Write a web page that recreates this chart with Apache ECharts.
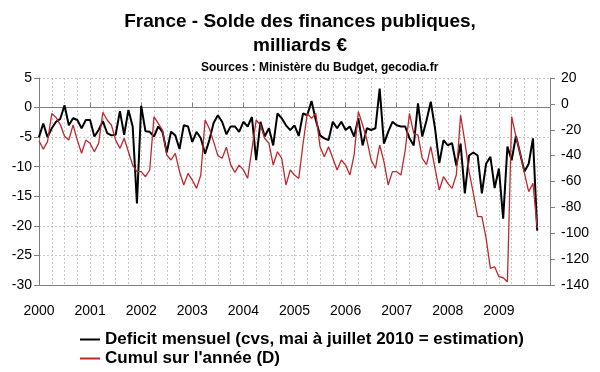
<!DOCTYPE html>
<html><head><meta charset="utf-8">
<script src="https://cdn.jsdelivr.net/npm/echarts@6/dist/echarts.min.js"></script>
<style>html,body{margin:0;padding:0;background:#fff}#c{width:600px;height:372px}</style>
</head><body><div id="c"></div>
<script>
// Year tick labels (one every 12 monthly points)
const yearLabels = ['2000','2001','2002','2003','2004','2005','2006','2007','2008','2009'];

// Monthly deficit, left axis (bn €)
const deficitMensuel = [
 -5.0,-2.7,-5.0,-3.5,-2.4,-1.9,0.4,-3.0,-1.8,-2.1,-3.5,-2.1,
 -2.1,-4.9,-3.8,-2.3,-4.3,-4.7,-4.6,-0.6,-4.6,-0.4,-3.2,-16.2,
 0.3,-4.0,-4.1,-4.9,-3.2,-4.1,-7.6,-4.1,-4.7,-7.0,-3.0,-3.2,
 -5.8,-4.1,-5.2,-7.8,-5.5,-2.6,-1.3,-2.4,-4.5,-3.2,-3.2,-4.1,
 -2.4,-3.2,-1.6,-8.9,-2.4,-4.9,-3.5,-6.4,-1.0,-1.8,-3.0,-3.8,
 -3.0,-4.8,-1.0,-1.3,1.1,-2.1,-4.7,-5.2,-5.5,-2.4,-3.5,-2.4,
 -3.8,-3.2,-4.9,-1.8,-6.4,-3.5,-3.8,-3.5,3.2,-6.1,-4.1,-2.4,
 -3.0,-3.2,-3.2,-5.2,-6.4,0.7,-4.9,-2.2,1.0,-3.5,-9.4,-5.5,
 -6.4,-6.0,-9.8,-6.1,-14.5,-8.1,-7.6,-8.1,-14.5,-9.5,-8.3,-13.6,
 -10.3,-18.8,-6.6,-8.9,-4.8,-7.8,-10.8,-9.5,-5.2,-20.8
];

// Cumulative over the year, right axis (bn €)
const cumulAnnee = [
 -28.5,-35,-29.2,-7.5,-10.5,-16,-25,-28,-16.3,-28,-38.2,-28,
 -30.5,-37,-30.5,-6.5,-12.5,-16.3,-28,-34.4,-26.6,-37,-47.3,-52.4,
 -52.4,-56.3,-51.1,-9.9,-15,-20.2,-39.5,-43.4,-38.2,-52.4,-62.7,-53.7,
 -58.9,-65.3,-55,-12.5,-19,-29.2,-40,-42,-33.5,-47,-53,-47.3,
 -51,-57.5,-35,-12.5,-16.3,-26.6,-30.5,-47.3,-37,-42.1,-62.7,-51.1,
 -55,-57.6,-31,-7.3,-11.2,-7.3,-33.1,-40.8,-33.1,-42.1,-51.1,-43.4,
 -47.3,-55,-39.5,-6,-16.3,-27.9,-43.4,-49.8,-31.8,-44.7,-62.7,-52.4,
 -52.4,-55,-35.7,-7.3,-22.8,-24.1,-42.1,-47,-33.1,-49.8,-66.6,-56.3,
 -61.4,-65.3,-55,-8.6,-29.2,-52.4,-69.2,-87.2,-87.2,-104,-127.2,-125.9,
 -133.6,-134.4,-137.5,-9.9,-25.4,-38.2,-53.7,-67.9,-61.4,-96
];

const seriesNames = ['Deficit mensuel (cvs, mai à juillet 2010 = estimation)', "Cumul sur l'année (D)"];

const FONT = '"Liberation Sans", Arial, sans-serif';
const AXIS = '#808080';
const GRID = '#c8c8c8';
const toPairs = arr => arr.map((v, i) => [i, v]);
const legendText = {fontFamily: FONT, fontSize: 17, fontWeight: 'bold', color: '#000'};

const chart = echarts.init(document.getElementById('c'), null, {renderer: 'canvas'});
chart.setOption({
  animation: false,
  backgroundColor: '#fff',
  textStyle: {fontFamily: FONT},
  title: [
    {text: 'France - Solde des finances publiques,\nmilliards €', left: 'center', top: 5,
     textStyle: {fontFamily: FONT, fontSize: 19, fontWeight: 'bold', color: '#000', lineHeight: 24}},
    {text: 'Sources : Ministère du Budget, gecodia.fr', left: 196, top: 56,
     textStyle: {fontFamily: FONT, fontSize: 12, fontWeight: 'bold', color: '#000', lineHeight: 14}}
  ],
  legend: [
    {left: 80, top: 331, padding: 0, itemWidth: 20, itemHeight: 2, selectedMode: false,
     textStyle: legendText, data: [{name: seriesNames[0], icon: 'rect'}]},
    {left: 80, top: 350, padding: 0, itemWidth: 20, itemHeight: 2, selectedMode: false,
     textStyle: legendText, data: [{name: seriesNames[1], icon: 'rect'}]}
  ],
  grid: {left: 39, right: 50, top: 78, bottom: 87, outerBoundsMode: 'none'},
  xAxis: [
    {type: 'value', min: 0, max: 120, interval: 3, position: 'bottom',
     axisLine: {show: true, onZero: false, lineStyle: {color: AXIS, width: 1}},
     axisTick: {show: false},
     axisLabel: {margin: 19, fontFamily: FONT, fontSize: 14, color: '#000',
       formatter: v => (v % 12 === 0 && v / 12 < yearLabels.length) ? yearLabels[v / 12] : ''},
     splitLine: {show: true, lineStyle: {color: GRID, type: [2, 2], width: 1}}},
    {type: 'value', min: 0, max: 120, interval: 12, position: 'top',
     axisLine: {show: true, onZero: true, onZeroAxisIndex: 0, lineStyle: {color: AXIS, width: 1}},
     axisTick: {show: true, inside: false, length: 5, lineStyle: {color: AXIS}},
     axisLabel: {show: false}, splitLine: {show: false}}
  ],
  yAxis: [
    {type: 'value', min: -30, max: 5, interval: 5, position: 'left',
     axisLine: {show: true, onZero: false, lineStyle: {color: AXIS, width: 1}},
     axisTick: {show: true, length: 5, lineStyle: {color: AXIS}},
     axisLabel: {margin: 7, fontFamily: FONT, fontSize: 14, color: '#000'},
     splitLine: {show: true, lineStyle: {color: GRID, type: [2, 2], width: 1}}},
    {type: 'value', min: -140, max: 20, interval: 20, position: 'right',
     axisLine: {show: true, onZero: false, lineStyle: {color: AXIS, width: 1}},
     axisTick: {show: true, length: 5, lineStyle: {color: AXIS}},
     axisLabel: {margin: 11, fontFamily: FONT, fontSize: 14, color: '#000'},
     splitLine: {show: false}}
  ],
  series: [
    {name: seriesNames[0], type: 'line',
     xAxisIndex: 0, yAxisIndex: 0, data: toPairs(deficitMensuel),
     symbol: 'none', color: '#000', lineStyle: {color: '#000', width: 2}},
    {name: seriesNames[1], type: 'line',
     xAxisIndex: 0, yAxisIndex: 1, data: toPairs(cumulAnnee),
     symbol: 'none', color: '#c0282d', lineStyle: {color: '#c0282d', width: 1.3}}
  ]
});
</script></body></html>
